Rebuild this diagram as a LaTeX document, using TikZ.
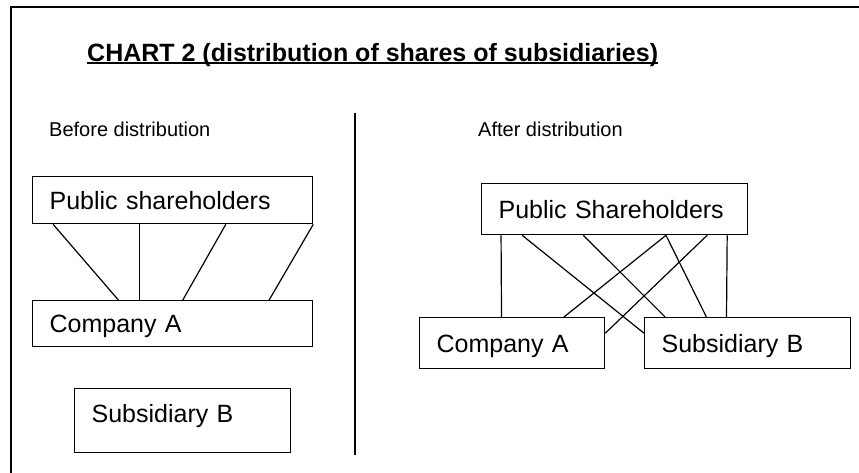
\documentclass[tikz,border=0pt]{standalone}
\usepackage{fontspec}
\setmainfont{Liberation Sans}
\usetikzlibrary{positioning,calc}

\begin{document}
\begin{tikzpicture}[x=1pt,y=-1pt,
    chartbox/.style={draw,line width=1.3pt,anchor=north west,inner xsep=17pt,inner ysep=0pt,
        align=left,text height=18pt,text depth=0pt,font=\fontsize{25}{30}\selectfont},
    caption/.style={anchor=base west,inner sep=0pt,font=\fontsize{20}{24}\selectfont},
    link/.style={line width=1.2pt}]
    \useasboundingbox (0,0) rectangle (859,472);

    % Frame
    \draw[line width=2pt] (880,6.5) -- (10.5,6.5) -- (10.5,490);

    % Title
    \node[anchor=base west,inner sep=0pt,font=\fontsize{25}{30}\selectfont\bfseries] (title) at (87,61)
        {CHART 2 (distribution of shares of subsidiaries)};
    \draw[line width=2pt] ([yshift=-2pt]title.base west) -- ([yshift=-2pt]title.base east);

    % Before distribution
    \node[caption] (before) at (49,136) {Before distribution};
    \node[chartbox,text width=246pt,minimum height=47pt] (psL) at (32,176) {Public shareholders};
    \node[chartbox,text width=246pt,minimum height=46pt] (caL) at (32,300) {Company A};
    \node[chartbox,text width=182pt,minimum height=64pt,text depth=15pt] (sbL) at (74,388) {Subsidiary B};
    \foreach \a/\b in {0.075/0.307, 0.382/0.382, 0.689/0.536, 1/0.843} {
        \draw[link] ($(psL.south west)!\a!(psL.south east)$) -- ($(caL.north west)!\b!(caL.north east)$);
    }

    % Divider
    \draw[line width=1.3pt] (355,113) -- (355,455);

    % After distribution
    \node[caption] (after) at (478,136) {After distribution};
    \node[chartbox,text width=232pt,minimum height=51pt] (psR) at (481,183) {Public Shareholders};
    \node[chartbox,text width=151pt,minimum height=51pt] (caR) at (419,317) {Company A};
    \node[chartbox,text width=172pt,minimum height=51pt] (sbR) at (644,317) {Subsidiary B};
    \foreach \a/\b/\c/\f in {0.075/caR.north west/caR.north east/0.443,
                             0.154/sbR.north west/sbR.south west/0.31,
                             0.383/sbR.north west/sbR.north east/0.102,
                             0.692/caR.north west/caR.north east/0.778,
                             0.692/sbR.north west/sbR.north east/0.301,
                             0.846/caR.north east/caR.south east/0.31,
                             0.921/sbR.north west/sbR.north east/0.398} {
        \draw[link] ($(psR.south west)!\a!(psR.south east)$) -- ($(\b)!\f!(\c)$);
    }
\end{tikzpicture}
\end{document}
